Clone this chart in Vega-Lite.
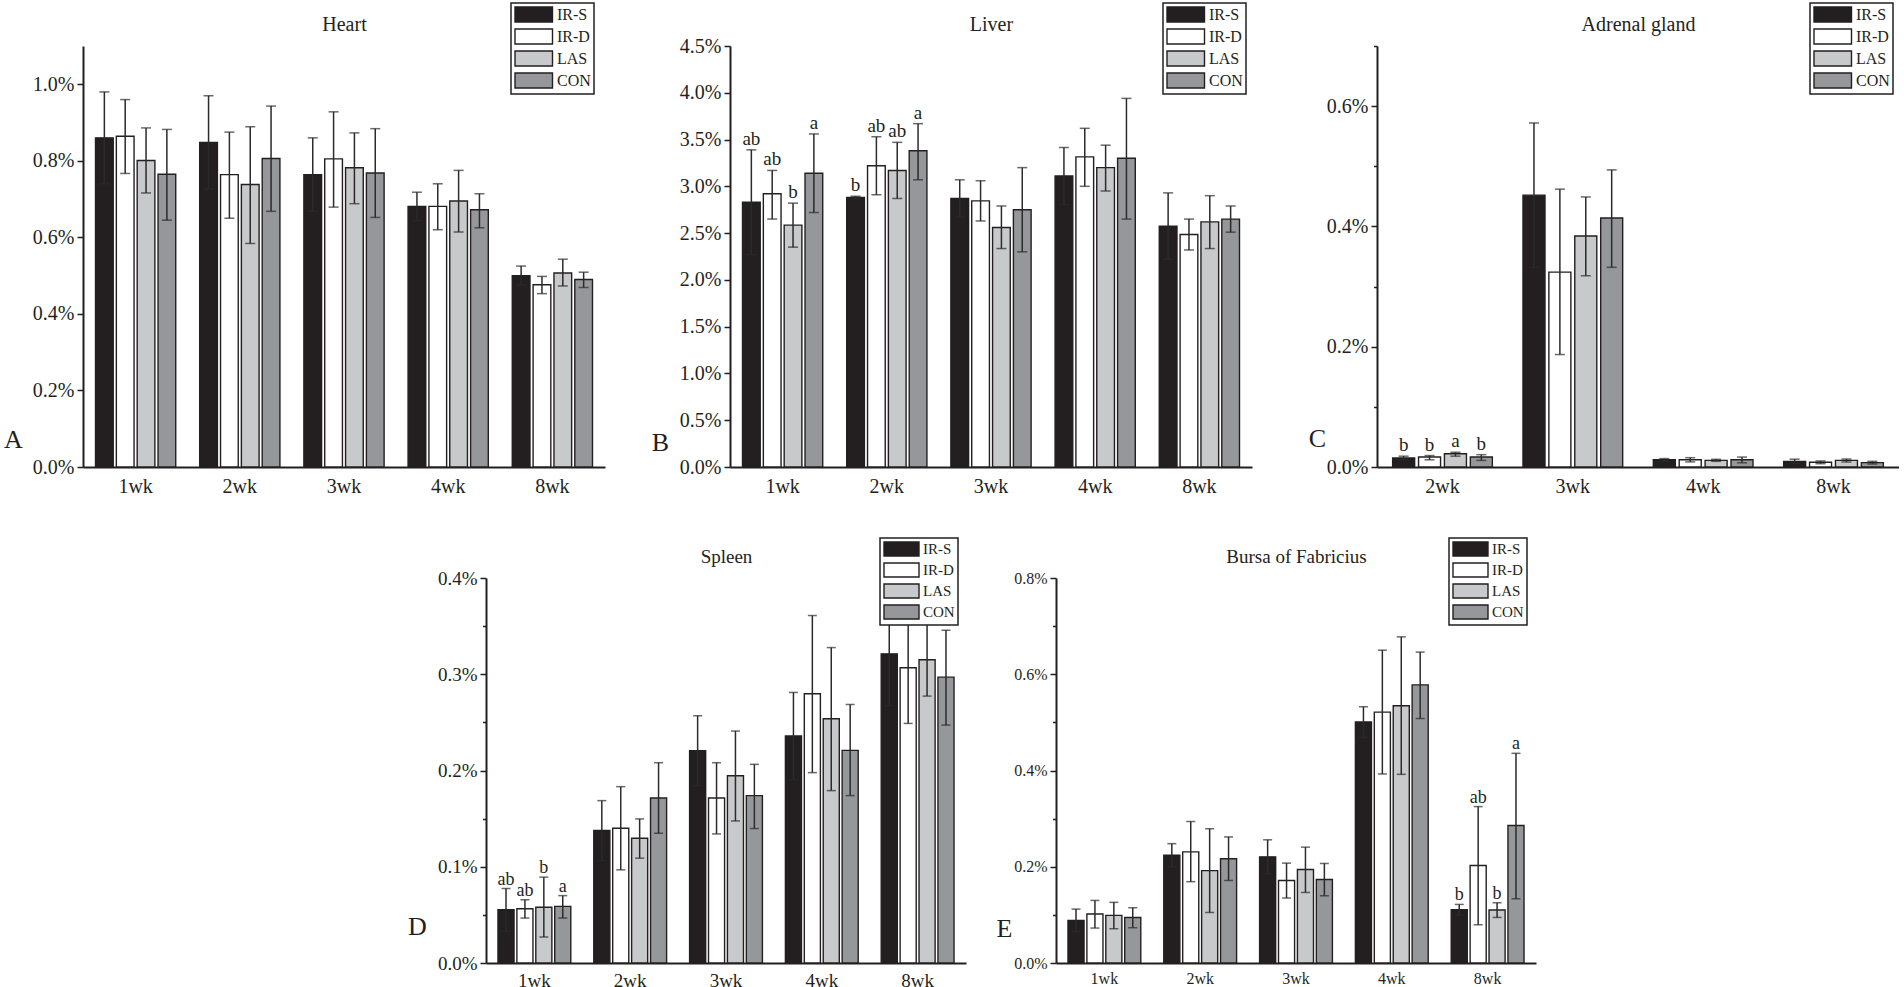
{
  "$schema": "https://vega.github.io/schema/vega-lite/v6.json",
  "background": "white",
  "padding": {"left": 3, "top": 2, "right": 0, "bottom": 0},
  "datasets": {
    "heart": [
      {"wk":"1wk","grp":"IR-S","m":0.860,"lo":0.740,"hi":0.980,"s":""},
      {"wk":"1wk","grp":"IR-D","m":0.864,"lo":0.767,"hi":0.960,"s":""},
      {"wk":"1wk","grp":"LAS","m":0.801,"lo":0.716,"hi":0.886,"s":""},
      {"wk":"1wk","grp":"CON","m":0.765,"lo":0.645,"hi":0.882,"s":""},
      {"wk":"2wk","grp":"IR-S","m":0.848,"lo":0.726,"hi":0.970,"s":""},
      {"wk":"2wk","grp":"IR-D","m":0.764,"lo":0.650,"hi":0.875,"s":""},
      {"wk":"2wk","grp":"LAS","m":0.738,"lo":0.584,"hi":0.889,"s":""},
      {"wk":"2wk","grp":"CON","m":0.806,"lo":0.668,"hi":0.943,"s":""},
      {"wk":"3wk","grp":"IR-S","m":0.764,"lo":0.668,"hi":0.860,"s":""},
      {"wk":"3wk","grp":"IR-D","m":0.805,"lo":0.679,"hi":0.928,"s":""},
      {"wk":"3wk","grp":"LAS","m":0.782,"lo":0.688,"hi":0.873,"s":""},
      {"wk":"3wk","grp":"CON","m":0.768,"lo":0.652,"hi":0.884,"s":""},
      {"wk":"4wk","grp":"IR-S","m":0.681,"lo":0.644,"hi":0.718,"s":""},
      {"wk":"4wk","grp":"IR-D","m":0.681,"lo":0.620,"hi":0.740,"s":""},
      {"wk":"4wk","grp":"LAS","m":0.695,"lo":0.614,"hi":0.775,"s":""},
      {"wk":"4wk","grp":"CON","m":0.672,"lo":0.625,"hi":0.714,"s":""},
      {"wk":"8wk","grp":"IR-S","m":0.500,"lo":0.475,"hi":0.525,"s":""},
      {"wk":"8wk","grp":"IR-D","m":0.476,"lo":0.453,"hi":0.498,"s":""},
      {"wk":"8wk","grp":"LAS","m":0.507,"lo":0.473,"hi":0.543,"s":""},
      {"wk":"8wk","grp":"CON","m":0.490,"lo":0.469,"hi":0.509,"s":""}
    ],
    "liver": [
      {"wk":"1wk","grp":"IR-S","m":2.83,"lo":2.27,"hi":3.39,"s":"ab"},
      {"wk":"1wk","grp":"IR-D","m":2.92,"lo":2.65,"hi":3.17,"s":"ab"},
      {"wk":"1wk","grp":"LAS","m":2.585,"lo":2.35,"hi":2.82,"s":"b"},
      {"wk":"1wk","grp":"CON","m":3.14,"lo":2.72,"hi":3.56,"s":"a"},
      {"wk":"2wk","grp":"IR-S","m":2.88,"lo":2.865,"hi":2.895,"s":"b"},
      {"wk":"2wk","grp":"IR-D","m":3.22,"lo":2.91,"hi":3.53,"s":"ab"},
      {"wk":"2wk","grp":"LAS","m":3.17,"lo":2.87,"hi":3.47,"s":"ab"},
      {"wk":"2wk","grp":"CON","m":3.38,"lo":3.07,"hi":3.67,"s":"a"},
      {"wk":"3wk","grp":"IR-S","m":2.87,"lo":2.67,"hi":3.07,"s":""},
      {"wk":"3wk","grp":"IR-D","m":2.845,"lo":2.63,"hi":3.06,"s":""},
      {"wk":"3wk","grp":"LAS","m":2.56,"lo":2.335,"hi":2.79,"s":""},
      {"wk":"3wk","grp":"CON","m":2.75,"lo":2.30,"hi":3.20,"s":""},
      {"wk":"4wk","grp":"IR-S","m":3.11,"lo":2.805,"hi":3.415,"s":""},
      {"wk":"4wk","grp":"IR-D","m":3.315,"lo":3.00,"hi":3.62,"s":""},
      {"wk":"4wk","grp":"LAS","m":3.20,"lo":2.95,"hi":3.44,"s":""},
      {"wk":"4wk","grp":"CON","m":3.30,"lo":2.65,"hi":3.94,"s":""},
      {"wk":"8wk","grp":"IR-S","m":2.574,"lo":2.22,"hi":2.93,"s":""},
      {"wk":"8wk","grp":"IR-D","m":2.485,"lo":2.32,"hi":2.65,"s":""},
      {"wk":"8wk","grp":"LAS","m":2.62,"lo":2.335,"hi":2.90,"s":""},
      {"wk":"8wk","grp":"CON","m":2.65,"lo":2.51,"hi":2.79,"s":""}
    ],
    "adrenal": [
      {"wk":"2wk","grp":"IR-S","m":0.015,"lo":0.012,"hi":0.018,"s":"b"},
      {"wk":"2wk","grp":"IR-D","m":0.0167,"lo":0.012,"hi":0.019,"s":"b"},
      {"wk":"2wk","grp":"LAS","m":0.022,"lo":0.018,"hi":0.0245,"s":"a"},
      {"wk":"2wk","grp":"CON","m":0.0167,"lo":0.011,"hi":0.0205,"s":"b"},
      {"wk":"3wk","grp":"IR-S","m":0.452,"lo":0.332,"hi":0.572,"s":""},
      {"wk":"3wk","grp":"IR-D","m":0.324,"lo":0.187,"hi":0.462,"s":""},
      {"wk":"3wk","grp":"LAS","m":0.384,"lo":0.318,"hi":0.449,"s":""},
      {"wk":"3wk","grp":"CON","m":0.414,"lo":0.332,"hi":0.494,"s":""},
      {"wk":"4wk","grp":"IR-S","m":0.012,"lo":0.010,"hi":0.014,"s":""},
      {"wk":"4wk","grp":"IR-D","m":0.012,"lo":0.0085,"hi":0.0155,"s":""},
      {"wk":"4wk","grp":"LAS","m":0.011,"lo":0.0094,"hi":0.0128,"s":""},
      {"wk":"4wk","grp":"CON","m":0.012,"lo":0.007,"hi":0.0165,"s":""},
      {"wk":"8wk","grp":"IR-S","m":0.0094,"lo":0.006,"hi":0.013,"s":""},
      {"wk":"8wk","grp":"IR-D","m":0.0078,"lo":0.0055,"hi":0.010,"s":""},
      {"wk":"8wk","grp":"LAS","m":0.011,"lo":0.0083,"hi":0.0133,"s":""},
      {"wk":"8wk","grp":"CON","m":0.0072,"lo":0.005,"hi":0.0094,"s":""}
    ],
    "spleen": [
      {"wk":"1wk","grp":"IR-S","m":0.0553,"lo":0.0332,"hi":0.0774,"s":"ab"},
      {"wk":"1wk","grp":"IR-D","m":0.0564,"lo":0.0467,"hi":0.0657,"s":"ab"},
      {"wk":"1wk","grp":"LAS","m":0.058,"lo":0.027,"hi":0.0892,"s":"b"},
      {"wk":"1wk","grp":"CON","m":0.0588,"lo":0.0467,"hi":0.070,"s":"a"},
      {"wk":"2wk","grp":"IR-S","m":0.1376,"lo":0.1065,"hi":0.1687,"s":""},
      {"wk":"2wk","grp":"IR-D","m":0.140,"lo":0.0968,"hi":0.1832,"s":""},
      {"wk":"2wk","grp":"LAS","m":0.1296,"lo":0.1089,"hi":0.1497,"s":""},
      {"wk":"2wk","grp":"CON","m":0.1715,"lo":0.1348,"hi":0.2081,"s":""},
      {"wk":"3wk","grp":"IR-S","m":0.2206,"lo":0.1843,"hi":0.2569,"s":""},
      {"wk":"3wk","grp":"IR-D","m":0.1715,"lo":0.1341,"hi":0.2081,"s":""},
      {"wk":"3wk","grp":"LAS","m":0.1946,"lo":0.1476,"hi":0.241,"s":""},
      {"wk":"3wk","grp":"CON","m":0.1739,"lo":0.1397,"hi":0.2064,"s":""},
      {"wk":"4wk","grp":"IR-S","m":0.2358,"lo":0.1905,"hi":0.2811,"s":""},
      {"wk":"4wk","grp":"IR-D","m":0.2797,"lo":0.1978,"hi":0.361,"s":""},
      {"wk":"4wk","grp":"LAS","m":0.2538,"lo":0.1791,"hi":0.3277,"s":""},
      {"wk":"4wk","grp":"CON","m":0.2209,"lo":0.1739,"hi":0.2686,"s":""},
      {"wk":"8wk","grp":"IR-S","m":0.3212,"lo":0.2674,"hi":0.375,"s":""},
      {"wk":"8wk","grp":"IR-D","m":0.3067,"lo":0.2489,"hi":0.3645,"s":""},
      {"wk":"8wk","grp":"LAS","m":0.315,"lo":0.2773,"hi":0.3533,"s":""},
      {"wk":"8wk","grp":"CON","m":0.297,"lo":0.2472,"hi":0.3457,"s":""}
    ],
    "bursa": [
      {"wk":"1wk","grp":"IR-S","m":0.0885,"lo":0.065,"hi":0.112,"s":""},
      {"wk":"1wk","grp":"IR-D","m":0.1017,"lo":0.0726,"hi":0.130,"s":""},
      {"wk":"1wk","grp":"LAS","m":0.0989,"lo":0.0712,"hi":0.126,"s":""},
      {"wk":"1wk","grp":"CON","m":0.0947,"lo":0.0733,"hi":0.1148,"s":""},
      {"wk":"2wk","grp":"IR-S","m":0.224,"lo":0.200,"hi":0.248,"s":""},
      {"wk":"2wk","grp":"IR-D","m":0.231,"lo":0.169,"hi":0.294,"s":""},
      {"wk":"2wk","grp":"LAS","m":0.192,"lo":0.105,"hi":0.279,"s":""},
      {"wk":"2wk","grp":"CON","m":0.2165,"lo":0.1715,"hi":0.262,"s":""},
      {"wk":"3wk","grp":"IR-S","m":0.2206,"lo":0.185,"hi":0.256,"s":""},
      {"wk":"3wk","grp":"IR-D","m":0.1715,"lo":0.135,"hi":0.2075,"s":""},
      {"wk":"3wk","grp":"LAS","m":0.1943,"lo":0.1466,"hi":0.2407,"s":""},
      {"wk":"3wk","grp":"CON","m":0.1736,"lo":0.1397,"hi":0.2068,"s":""},
      {"wk":"4wk","grp":"IR-S","m":0.5007,"lo":0.469,"hi":0.5325,"s":""},
      {"wk":"4wk","grp":"IR-D","m":0.5214,"lo":0.3928,"hi":0.650,"s":""},
      {"wk":"4wk","grp":"LAS","m":0.5346,"lo":0.392,"hi":0.6777,"s":""},
      {"wk":"4wk","grp":"CON","m":0.578,"lo":0.508,"hi":0.646,"s":""},
      {"wk":"8wk","grp":"IR-S","m":0.1107,"lo":0.0997,"hi":0.1217,"s":"b"},
      {"wk":"8wk","grp":"IR-D","m":0.2026,"lo":0.0795,"hi":0.325,"s":"ab"},
      {"wk":"8wk","grp":"LAS","m":0.11,"lo":0.0947,"hi":0.1252,"s":"b"},
      {"wk":"8wk","grp":"CON","m":0.2856,"lo":0.1335,"hi":0.4357,"s":"a"}
    ]
  },
  "vconcat": [
    {
      "hconcat": [
        {
          "width": 522, "height": 421,
          "data": {"name": "heart"},
          "encoding": {
            "x": {"field": "wk", "type": "nominal", "scale": {"paddingInner": 0.23, "paddingOuter": 0.12},
                  "axis": {"title": "Heart", "titleX": 261, "titleY": -437, "titleFontSize": 20, "titleFontWeight": "normal", "titleAlign": "center", "titleBaseline": "alphabetic",
                           "ticks": false, "labelAngle": 0, "labelFontSize": 20, "labelPadding": 9, "domainWidth": 2}},
            "xOffset": {"field": "grp", "type": "nominal", "sort": ["IR-S", "IR-D", "LAS", "CON"], "scale": {"paddingInner": 0.15}}
          },
          "layer": [
            {"mark": {"type": "bar"},
             "encoding": {
               "y": {"field": "m", "type": "quantitative", "scale": {"domain": [0, 1.1], "nice": false},
                     "axis": {"title": "A", "titleAngle": 0, "titleX": -70, "titleY": 393, "titleFontSize": 26, "titleFontWeight": "normal", "titleAlign": "center", "titleBaseline": "middle",
                              "values": [0, 0.1, 0.2, 0.3, 0.4, 0.5, 0.6, 0.7, 0.8, 0.9, 1.0, 1.1],
                              "labelExpr": "round(datum.value*10)%2==0 ? format(datum.value,'.1f')+'%' : ''",
                              "tickSize": {"condition": {"test": "round(datum.value*10)%2==0", "value": 6}, "value": 3.5},
                              "labelFontSize": 20, "labelPadding": 3, "domainWidth": 2, "tickWidth": 1.5}},
               "fill": {"field": "grp", "type": "nominal", "scale": {"domain": ["IR-S", "IR-D", "LAS", "CON"], "range": ["#231f20", "#ffffff", "#c8c9cb", "#96979a"]},
                        "legend": {"title": null, "legendX": 428, "legendY": -43, "symbolType": "M-1,-1H4V1H-1Z", "symbolSize": 225, "labelOffset": 26, "labelFontSize": 16}}
             }},
            {"mark": {"type": "rule"}, "encoding": {"y": {"field": "lo", "type": "quantitative", "scale": {"domain": [0, 1.1], "nice": false}}, "y2": {"field": "hi"}}},
            {"mark": {"type": "tick", "orient": "horizontal", "size": 10}, "encoding": {"y": {"field": "hi", "type": "quantitative", "scale": {"domain": [0, 1.1], "nice": false}}}},
            {"mark": {"type": "tick", "orient": "horizontal", "size": 10}, "encoding": {"y": {"field": "lo", "type": "quantitative", "scale": {"domain": [0, 1.1], "nice": false}}}}
          ]
        },
        {
          "width": 522, "height": 421,
          "data": {"name": "liver"},
          "encoding": {
            "x": {"field": "wk", "type": "nominal", "scale": {"paddingInner": 0.23, "paddingOuter": 0.12},
                  "axis": {"title": "Liver", "titleX": 261, "titleY": -437, "titleFontSize": 20, "titleFontWeight": "normal", "titleAlign": "center", "titleBaseline": "alphabetic",
                           "ticks": false, "labelAngle": 0, "labelFontSize": 20, "labelPadding": 9, "domainWidth": 2}},
            "xOffset": {"field": "grp", "type": "nominal", "sort": ["IR-S", "IR-D", "LAS", "CON"], "scale": {"paddingInner": 0.15}}
          },
          "layer": [
            {"mark": {"type": "bar"},
             "encoding": {
               "y": {"field": "m", "type": "quantitative", "scale": {"domain": [0, 4.5], "nice": false},
                     "axis": {"title": "B", "titleAngle": 0, "titleX": -70, "titleY": 396, "titleFontSize": 26, "titleFontWeight": "normal", "titleAlign": "center", "titleBaseline": "middle",
                              "values": [0, 0.25, 0.5, 0.75, 1.0, 1.25, 1.5, 1.75, 2.0, 2.25, 2.5, 2.75, 3.0, 3.25, 3.5, 3.75, 4.0, 4.25, 4.5],
                              "labelExpr": "round(datum.value*4)%2==0 ? format(datum.value,'.1f')+'%' : ''",
                              "tickSize": {"condition": {"test": "round(datum.value*4)%2==0", "value": 6}, "value": 3.5},
                              "labelFontSize": 20, "labelPadding": 3, "domainWidth": 2, "tickWidth": 1.5}},
               "fill": {"field": "grp", "type": "nominal", "scale": {"domain": ["IR-S", "IR-D", "LAS", "CON"], "range": ["#231f20", "#ffffff", "#c8c9cb", "#96979a"]},
                        "legend": {"title": null, "legendX": 433, "legendY": -43, "symbolType": "M-1,-1H4V1H-1Z", "symbolSize": 225, "labelOffset": 26, "labelFontSize": 16}}
             }},
            {"mark": {"type": "rule"}, "encoding": {"y": {"field": "lo", "type": "quantitative", "scale": {"domain": [0, 4.5], "nice": false}}, "y2": {"field": "hi"}}},
            {"mark": {"type": "tick", "orient": "horizontal", "size": 10}, "encoding": {"y": {"field": "hi", "type": "quantitative", "scale": {"domain": [0, 4.5], "nice": false}}}},
            {"mark": {"type": "tick", "orient": "horizontal", "size": 10}, "encoding": {"y": {"field": "lo", "type": "quantitative", "scale": {"domain": [0, 4.5], "nice": false}}}},
            {"transform": [{"filter": "datum.s != ''"}],
             "mark": {"type": "text", "baseline": "alphabetic", "dy": -5, "fontSize": 19},
             "encoding": {"y": {"field": "hi", "type": "quantitative", "scale": {"domain": [0, 4.5], "nice": false}}, "text": {"field": "s"}}}
          ]
        },
        {
          "width": 522, "height": 421,
          "data": {"name": "adrenal"},
          "encoding": {
            "x": {"field": "wk", "type": "nominal", "scale": {"paddingInner": 0.235, "paddingOuter": 0.12},
                  "axis": {"title": "Adrenal gland", "titleX": 261, "titleY": -437, "titleFontSize": 20, "titleFontWeight": "normal", "titleAlign": "center", "titleBaseline": "alphabetic",
                           "ticks": false, "labelAngle": 0, "labelFontSize": 20, "labelPadding": 9, "domainWidth": 2}},
            "xOffset": {"field": "grp", "type": "nominal", "sort": ["IR-S", "IR-D", "LAS", "CON"], "scale": {"paddingInner": 0.15}}
          },
          "layer": [
            {"mark": {"type": "bar"},
             "encoding": {
               "y": {"field": "m", "type": "quantitative", "scale": {"domain": [0, 0.7], "nice": false},
                     "axis": {"title": "C", "titleAngle": 0, "titleX": -60, "titleY": 392, "titleFontSize": 26, "titleFontWeight": "normal", "titleAlign": "center", "titleBaseline": "middle",
                              "values": [0, 0.1, 0.2, 0.3, 0.4, 0.5, 0.6, 0.7],
                              "labelExpr": "round(datum.value*10)%2==0 ? format(datum.value,'.1f')+'%' : ''",
                              "tickSize": {"condition": {"test": "round(datum.value*10)%2==0", "value": 6}, "value": 3.5},
                              "labelFontSize": 20, "labelPadding": 3, "domainWidth": 2, "tickWidth": 1.5}},
               "fill": {"field": "grp", "type": "nominal", "scale": {"domain": ["IR-S", "IR-D", "LAS", "CON"], "range": ["#231f20", "#ffffff", "#c8c9cb", "#96979a"]},
                        "legend": {"title": null, "legendX": 433, "legendY": -43, "symbolType": "M-1,-1H4V1H-1Z", "symbolSize": 225, "labelOffset": 26, "labelFontSize": 16}}
             }},
            {"mark": {"type": "rule"}, "encoding": {"y": {"field": "lo", "type": "quantitative", "scale": {"domain": [0, 0.7], "nice": false}}, "y2": {"field": "hi"}}},
            {"mark": {"type": "tick", "orient": "horizontal", "size": 10}, "encoding": {"y": {"field": "hi", "type": "quantitative", "scale": {"domain": [0, 0.7], "nice": false}}}},
            {"mark": {"type": "tick", "orient": "horizontal", "size": 10}, "encoding": {"y": {"field": "lo", "type": "quantitative", "scale": {"domain": [0, 0.7], "nice": false}}}},
            {"transform": [{"filter": "datum.s != ''"}],
             "mark": {"type": "text", "baseline": "alphabetic", "dy": -5, "fontSize": 19},
             "encoding": {"y": {"field": "hi", "type": "quantitative", "scale": {"domain": [0, 0.7], "nice": false}}, "text": {"field": "s"}}}
          ]
        }
      ],
      "spacing": 125,
      "bounds": "flush",
      "resolve": {"scale": {"fill": "independent", "x": "independent", "y": "independent", "xOffset": "independent"}, "legend": {"fill": "independent"}}
    },
    {
      "hconcat": [
        {
          "width": 313, "height": 385,
          "data": {"values": []},
          "mark": {"type": "point"},
          "encoding": {}
        },
        {
          "width": 480, "height": 385,
          "data": {"name": "spleen"},
          "encoding": {
            "x": {"field": "wk", "type": "nominal", "scale": {"paddingInner": 0.24, "paddingOuter": 0.125},
                  "axis": {"title": "Spleen", "titleX": 240, "titleY": -401, "titleFontSize": 19, "titleFontWeight": "normal", "titleAlign": "center", "titleBaseline": "alphabetic",
                           "ticks": false, "labelAngle": 0, "labelFontSize": 19, "labelPadding": 8, "domainWidth": 2}},
            "xOffset": {"field": "grp", "type": "nominal", "sort": ["IR-S", "IR-D", "LAS", "CON"], "scale": {"paddingInner": 0.15}}
          },
          "layer": [
            {"mark": {"type": "bar"},
             "encoding": {
               "y": {"field": "m", "type": "quantitative", "scale": {"domain": [0, 0.4], "nice": false},
                     "axis": {"title": "D", "titleAngle": 0, "titleX": -69, "titleY": 348, "titleFontSize": 26, "titleFontWeight": "normal", "titleAlign": "center", "titleBaseline": "middle",
                              "values": [0, 0.05, 0.1, 0.15, 0.2, 0.25, 0.3, 0.35, 0.4],
                              "labelExpr": "round(datum.value*20)%2==0 ? format(datum.value,'.1f')+'%' : ''",
                              "tickSize": {"condition": {"test": "round(datum.value*20)%2==0", "value": 6}, "value": 3.5},
                              "labelFontSize": 19, "labelPadding": 3, "domainWidth": 2, "tickWidth": 1.5}},
               "fill": {"field": "grp", "type": "nominal", "scale": {"domain": ["IR-S", "IR-D", "LAS", "CON"], "range": ["#231f20", "#ffffff", "#c8c9cb", "#96979a"]},
                        "legend": {"title": null, "legendX": 394, "legendY": -40, "symbolType": "M-1,-1H4V1H-1Z", "symbolSize": 196, "labelOffset": 24, "labelFontSize": 15}}
             }},
            {"mark": {"type": "rule"}, "encoding": {"y": {"field": "lo", "type": "quantitative", "scale": {"domain": [0, 0.4], "nice": false}}, "y2": {"field": "hi"}}},
            {"mark": {"type": "tick", "orient": "horizontal", "size": 9}, "encoding": {"y": {"field": "hi", "type": "quantitative", "scale": {"domain": [0, 0.4], "nice": false}}}},
            {"mark": {"type": "tick", "orient": "horizontal", "size": 9}, "encoding": {"y": {"field": "lo", "type": "quantitative", "scale": {"domain": [0, 0.4], "nice": false}}}},
            {"transform": [{"filter": "datum.s != ''"}],
             "mark": {"type": "text", "baseline": "alphabetic", "dy": -4, "fontSize": 18},
             "encoding": {"y": {"field": "hi", "type": "quantitative", "scale": {"domain": [0, 0.4], "nice": false}}, "text": {"field": "s"}}}
          ]
        },
        {
          "width": 480, "height": 385,
          "data": {"name": "bursa"},
          "encoding": {
            "x": {"field": "wk", "type": "nominal", "scale": {"paddingInner": 0.24, "paddingOuter": 0.125},
                  "axis": {"title": "Bursa of Fabricius", "titleX": 240, "titleY": -401, "titleFontSize": 19, "titleFontWeight": "normal", "titleAlign": "center", "titleBaseline": "alphabetic",
                           "ticks": false, "labelAngle": 0, "labelFontSize": 16, "labelPadding": 7, "domainWidth": 2}},
            "xOffset": {"field": "grp", "type": "nominal", "sort": ["IR-S", "IR-D", "LAS", "CON"], "scale": {"paddingInner": 0.15}}
          },
          "layer": [
            {"mark": {"type": "bar"},
             "encoding": {
               "y": {"field": "m", "type": "quantitative", "scale": {"domain": [0, 0.8], "nice": false},
                     "axis": {"title": "E", "titleAngle": 0, "titleX": -52, "titleY": 350, "titleFontSize": 26, "titleFontWeight": "normal", "titleAlign": "center", "titleBaseline": "middle",
                              "values": [0, 0.1, 0.2, 0.3, 0.4, 0.5, 0.6, 0.7, 0.8],
                              "labelExpr": "round(datum.value*10)%2==0 ? format(datum.value,'.1f')+'%' : ''",
                              "tickSize": {"condition": {"test": "round(datum.value*10)%2==0", "value": 6}, "value": 3.5},
                              "labelFontSize": 16, "labelPadding": 3, "domainWidth": 2, "tickWidth": 1.5}},
               "fill": {"field": "grp", "type": "nominal", "scale": {"domain": ["IR-S", "IR-D", "LAS", "CON"], "range": ["#231f20", "#ffffff", "#c8c9cb", "#96979a"]},
                        "legend": {"title": null, "legendX": 393, "legendY": -40, "symbolType": "M-1,-1H4V1H-1Z", "symbolSize": 196, "labelOffset": 24, "labelFontSize": 15}}
             }},
            {"mark": {"type": "rule"}, "encoding": {"y": {"field": "lo", "type": "quantitative", "scale": {"domain": [0, 0.8], "nice": false}}, "y2": {"field": "hi"}}},
            {"mark": {"type": "tick", "orient": "horizontal", "size": 9}, "encoding": {"y": {"field": "hi", "type": "quantitative", "scale": {"domain": [0, 0.8], "nice": false}}}},
            {"mark": {"type": "tick", "orient": "horizontal", "size": 9}, "encoding": {"y": {"field": "lo", "type": "quantitative", "scale": {"domain": [0, 0.8], "nice": false}}}},
            {"transform": [{"filter": "datum.s != ''"}],
             "mark": {"type": "text", "baseline": "alphabetic", "dy": -4, "fontSize": 18},
             "encoding": {"y": {"field": "hi", "type": "quantitative", "scale": {"domain": [0, 0.8], "nice": false}}, "text": {"field": "s"}}}
          ]
        }
      ],
      "spacing": 90,
      "bounds": "flush",
      "resolve": {"scale": {"fill": "independent", "x": "independent", "y": "independent", "xOffset": "independent"}, "legend": {"fill": "independent"}}
    }
  ],
  "spacing": 41,
  "bounds": "full",
  "resolve": {"scale": {"fill": "independent", "x": "independent", "y": "independent", "xOffset": "independent"}, "legend": {"fill": "independent"}},
  "config": {
    "font": "Liberation Serif",
    "view": {"stroke": null},
    "axis": {"labelColor": "#231f20", "domainColor": "#231f20", "tickColor": "#231f20", "titleColor": "#231f20", "grid": false, "labelFont": "Liberation Serif", "titleFont": "Liberation Serif"},
    "bar": {"stroke": "#231f20", "strokeWidth": 1.4},
    "rule": {"color": "#2b2b2b", "strokeWidth": 1.5},
    "tick": {"color": "#2b2b2b", "thickness": 1.5},
    "text": {"color": "#231f20", "font": "Liberation Serif"},
    "legend": {"orient": "none", "symbolStrokeColor": "#231f20", "symbolStrokeWidth": 1.5, "strokeColor": "#231f20", "strokeWidth": 1.5, "fillColor": "white", "padding": 3, "rowPadding": 1, "labelColor": "#231f20", "labelFont": "Liberation Serif"}
  }
}
